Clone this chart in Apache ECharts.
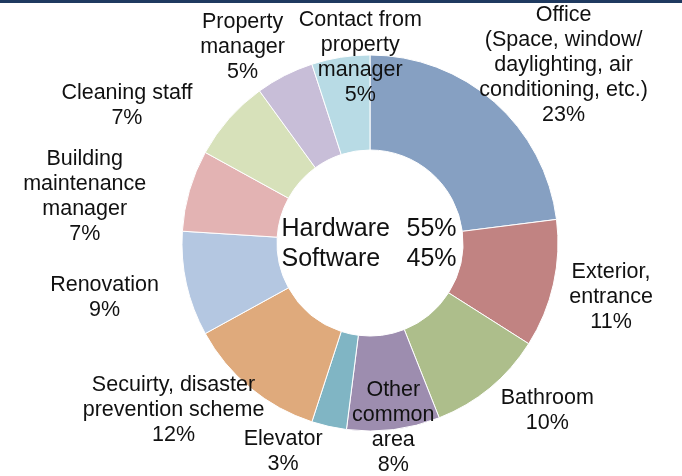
<!DOCTYPE html>
<html>
<head>
<meta charset="utf-8">
<script src="https://cdn.jsdelivr.net/npm/echarts@6/dist/echarts.min.js"></script>
<style>
  html, body { margin: 0; padding: 0; background: #fff; }
  #chart { width: 682px; height: 476px; }
</style>
</head>
<body>
<div id="chart"></div>
<script>
// clockwise from 12 o'clock
const categories = [
  'Office\n(Space, window/\ndaylighting, air\nconditioning, etc.)',
  'Exterior,\nentrance',
  'Bathroom',
  'Other\ncommon\narea',
  'Elevator',
  'Secuirty, disaster\nprevention scheme',
  'Renovation',
  'Building\nmaintenance\nmanager',
  'Cleaning staff',
  'Property\nmanager',
  'Contact from\nproperty\nmanager'
]
const values = [23, 11, 10, 8, 3, 12, 9, 7, 7, 5, 5]
const groups = ['Hardware', 'Hardware', 'Hardware', 'Hardware', 'Hardware',
  'Software', 'Software', 'Software', 'Software', 'Software', 'Software']

const colors = ['#86a0c2', '#c18382', '#adbe8b', '#9d8daf', '#80b5c4', '#dfaa7c',
  '#b4c7e1', '#e3b3b3', '#d7e1ba', '#c8bed8', '#b8dbe5']

// label nudges: [angle shift in degrees, distance beyond outer edge in px]
const labelNudge = [
  [6, 75], [0, 59], [-7, 56], [0, -2], [10, 38], [10, 70],
  [1, 83], [-7, 101], [-12, 91], [-6, 46], [6, -2]
]

const CX = 370, CY = 243, R_IN = 93, R_OUT = 188

const total = values.reduce((a, b) => a + b, 0)
const midAngles = []
let acc = 0
values.forEach(v => {
  midAngles.push((acc + v / 2) / total * 360)
  acc += v
})

function groupShare(name) {
  const s = values.reduce((sum, v, i) => sum + (groups[i] === name ? v : 0), 0)
  return Math.round(s / total * 100) + '%'
}

const chart = echarts.init(document.getElementById('chart'))

const centerFont = { fontSize: 25, lineHeight: 30, fontFamily: 'Liberation Sans', fill: '#111', align: 'left' }

chart.setOption({
  backgroundColor: '#fff',
  animation: false,
  graphic: [
    {
      type: 'rect',
      shape: { x: 0, y: 0, width: 682, height: 3 },
      style: { fill: '#1f3a60' }
    },
    {
      type: 'text',
      x: CX,
      y: CY + 1,
      z: 10,
      style: {
        text: `{a|Hardware}{b|${groupShare('Hardware')}}\n{a|Software}{b|${groupShare('Software')}}`,
        align: 'center',
        verticalAlign: 'middle',
        rich: {
          a: { ...centerFont, width: 125 },
          b: { ...centerFont, width: 52 }
        }
      }
    }
  ],
  series: [
    {
      type: 'pie',
      center: [CX, CY],
      radius: [R_IN, R_OUT],
      startAngle: 90,
      clockwise: true,
      avoidLabelOverlap: false,
      itemStyle: { borderColor: '#fff', borderWidth: 1 },
      label: {
        show: true,
        position: 'outside',
        formatter: p => p.name + '\n' + p.value + '%',
        color: '#111',
        fontSize: 21.5,
        lineHeight: 25,
        fontFamily: 'Liberation Sans'
      },
      labelLine: { show: false },
      labelLayout: params => {
        const i = params.dataIndex
        const a = (midAngles[i] + labelNudge[i][0]) * Math.PI / 180
        const d = R_OUT + labelNudge[i][1]
        return {
          x: CX + Math.sin(a) * d,
          y: CY - Math.cos(a) * d,
          align: 'center',
          verticalAlign: 'middle'
        }
      },
      emphasis: { disabled: true },
      data: categories.map((name, i) => ({
        name,
        value: values[i],
        itemStyle: { color: colors[i] }
      }))
    }
  ]
})
</script>
</body>
</html>
